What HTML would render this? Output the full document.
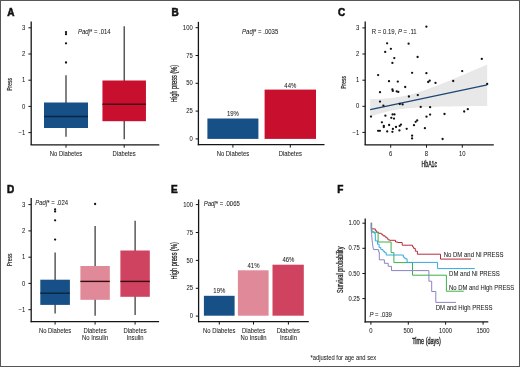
<!DOCTYPE html><html><head><meta charset="utf-8"><style>html,body{margin:0;padding:0;background:#fff;}svg{display:block;filter:blur(0.3px);}.wrap{position:relative;width:520px;height:367px;overflow:hidden;}.bd{position:absolute;left:0;top:0;width:520px;height:367px;box-sizing:border-box;border:1px solid #575757;}text{font-family:"Liberation Sans", sans-serif;}.t{stroke:#222;stroke-width:0.05px;}</style></head><body>
<div class="wrap">
<svg width="520" height="367" viewBox="0 0 520 367">
<rect x="0" y="0" width="520" height="367" fill="#fff"/>
<text transform="translate(7.20,15.60) scale(1,1)" font-size="10.0" text-anchor="start" font-weight="bold" font-style="normal" fill="#111" style="stroke:#111;stroke-width:0.55px">A</text>
<text style="stroke:#222;stroke-width:0.18px" transform="translate(9.4,84.4) rotate(-90)" x="-6.45" y="0" dy="0.35em" font-size="7.9" font-weight="normal" textLength="12.9" lengthAdjust="spacingAndGlyphs" fill="#222">Press</text>
<line x1="31.2" y1="21.4" x2="31.2" y2="145.1" stroke="#151515" stroke-width="1.3"/>
<line x1="28.4" y1="27.8" x2="31.2" y2="27.8" stroke="#151515" stroke-width="1"/>
<text transform="translate(25.30,29.90) scale(0.9,1)" font-size="6.556" text-anchor="end" font-weight="normal" font-style="normal" fill="#222" class="t">3</text>
<line x1="28.4" y1="54.0" x2="31.2" y2="54.0" stroke="#151515" stroke-width="1"/>
<text transform="translate(25.30,56.10) scale(0.9,1)" font-size="6.556" text-anchor="end" font-weight="normal" font-style="normal" fill="#222" class="t">2</text>
<line x1="28.4" y1="80.2" x2="31.2" y2="80.2" stroke="#151515" stroke-width="1"/>
<text transform="translate(25.30,82.30) scale(0.9,1)" font-size="6.556" text-anchor="end" font-weight="normal" font-style="normal" fill="#222" class="t">1</text>
<line x1="28.4" y1="106.4" x2="31.2" y2="106.4" stroke="#151515" stroke-width="1"/>
<text transform="translate(25.30,108.50) scale(0.9,1)" font-size="6.556" text-anchor="end" font-weight="normal" font-style="normal" fill="#222" class="t">0</text>
<line x1="28.4" y1="132.6" x2="31.2" y2="132.6" stroke="#151515" stroke-width="1"/>
<text transform="translate(25.30,134.70) scale(0.9,1)" font-size="6.556" text-anchor="end" font-weight="normal" font-style="normal" fill="#222" class="t">−1</text>
<line x1="30.6" y1="144.8" x2="159.3" y2="144.8" stroke="#151515" stroke-width="1.3"/>
<line x1="66" y1="144.8" x2="66" y2="147.70000000000002" stroke="#151515" stroke-width="1"/>
<text transform="translate(66.00,155.80) scale(0.9,1)" font-size="6.556" text-anchor="middle" font-weight="normal" font-style="normal" fill="#222" class="t">No Diabetes</text>
<line x1="124.2" y1="144.8" x2="124.2" y2="147.70000000000002" stroke="#151515" stroke-width="1"/>
<text transform="translate(124.20,155.80) scale(0.9,1)" font-size="6.556" text-anchor="middle" font-weight="normal" font-style="normal" fill="#222" class="t">Diabetes</text>
<line x1="66" y1="75.3" x2="66" y2="136.7" stroke="#262626" stroke-width="1.15"/>
<rect x="44.0" y="102.5" width="44" height="25.5" fill="#165087"/>
<line x1="44.0" y1="116.5" x2="88.0" y2="116.5" stroke="#0b2440" stroke-width="1.4"/>
<circle cx="66" cy="62.5" r="1.15" fill="#111"/>
<circle cx="66" cy="43.3" r="1.15" fill="#111"/>
<circle cx="66" cy="34.2" r="1.15" fill="#111"/>
<circle cx="66" cy="32.1" r="1.15" fill="#111"/>
<line x1="124.2" y1="26.3" x2="124.2" y2="139.3" stroke="#262626" stroke-width="1.15"/>
<rect x="102.45" y="80.5" width="43.5" height="40.7" fill="#c8102e"/>
<line x1="102.45" y1="104.2" x2="145.95" y2="104.2" stroke="#4a0a12" stroke-width="1.4"/>
<text class="t" transform="translate(77.9,34.1) scale(0.9,1)" font-size="6.667" fill="#222"><tspan font-style="italic">Padj</tspan>* = .014</text>
<text transform="translate(171.60,15.90) scale(1,1)" font-size="10.0" text-anchor="start" font-weight="bold" font-style="normal" fill="#111" style="stroke:#111;stroke-width:0.55px">B</text>
<text style="stroke:#222;stroke-width:0.25px" transform="translate(174.3,83.5) rotate(-90)" x="-18.7" y="0" dy="0.35em" font-size="8.2" font-weight="normal" textLength="37.4" lengthAdjust="spacingAndGlyphs" fill="#222">High press (%)</text>
<line x1="198.4" y1="21.8" x2="198.4" y2="145.3" stroke="#151515" stroke-width="1.3"/>
<line x1="195.6" y1="27.7" x2="198.4" y2="27.7" stroke="#151515" stroke-width="1"/>
<text transform="translate(192.70,29.80) scale(0.9,1)" font-size="6.556" text-anchor="end" font-weight="normal" font-style="normal" fill="#222" class="t">100</text>
<line x1="195.6" y1="55.5" x2="198.4" y2="55.5" stroke="#151515" stroke-width="1"/>
<text transform="translate(192.70,57.60) scale(0.9,1)" font-size="6.556" text-anchor="end" font-weight="normal" font-style="normal" fill="#222" class="t">75</text>
<line x1="195.6" y1="83.3" x2="198.4" y2="83.3" stroke="#151515" stroke-width="1"/>
<text transform="translate(192.70,85.40) scale(0.9,1)" font-size="6.556" text-anchor="end" font-weight="normal" font-style="normal" fill="#222" class="t">50</text>
<line x1="195.6" y1="111.1" x2="198.4" y2="111.1" stroke="#151515" stroke-width="1"/>
<text transform="translate(192.70,113.20) scale(0.9,1)" font-size="6.556" text-anchor="end" font-weight="normal" font-style="normal" fill="#222" class="t">25</text>
<line x1="195.6" y1="138.9" x2="198.4" y2="138.9" stroke="#151515" stroke-width="1"/>
<text transform="translate(192.70,141.00) scale(0.9,1)" font-size="6.556" text-anchor="end" font-weight="normal" font-style="normal" fill="#222" class="t">0</text>
<line x1="197.8" y1="144.7" x2="324.5" y2="144.7" stroke="#151515" stroke-width="1.3"/>
<line x1="232.9" y1="144.7" x2="232.9" y2="147.6" stroke="#151515" stroke-width="1"/>
<text transform="translate(232.90,155.70) scale(0.9,1)" font-size="6.556" text-anchor="middle" font-weight="normal" font-style="normal" fill="#222" class="t">No Diabetes</text>
<line x1="290.3" y1="144.7" x2="290.3" y2="147.6" stroke="#151515" stroke-width="1"/>
<text transform="translate(290.30,155.70) scale(0.9,1)" font-size="6.556" text-anchor="middle" font-weight="normal" font-style="normal" fill="#222" class="t">Diabetes</text>
<rect x="207.4" y="118.5" width="51" height="20.4" fill="#165087"/>
<rect x="264.6" y="89.6" width="51.4" height="49.3" fill="#c8102e"/>
<text transform="translate(232.90,115.70) scale(0.9,1)" font-size="6.667" text-anchor="middle" font-weight="normal" font-style="normal" fill="#222" class="t">19%</text>
<text transform="translate(290.30,87.60) scale(0.9,1)" font-size="6.667" text-anchor="middle" font-weight="normal" font-style="normal" fill="#222" class="t">44%</text>
<text class="t" transform="translate(242.1,34.3) scale(0.9,1)" font-size="6.667" fill="#222"><tspan font-style="italic">Padj</tspan>* = .0035</text>
<text transform="translate(338.10,15.90) scale(1,1)" font-size="10.0" text-anchor="start" font-weight="bold" font-style="normal" fill="#111" style="stroke:#111;stroke-width:0.55px">C</text>
<text style="stroke:#222;stroke-width:0.18px" transform="translate(343.7,82.4) rotate(-90)" x="-6.45" y="0" dy="0.35em" font-size="7.9" font-weight="normal" textLength="12.9" lengthAdjust="spacingAndGlyphs" fill="#222">Press</text>
<polygon points="370.2,99.2 373.1,99.1 376.1,99.0 379.0,98.9 381.9,98.7 384.8,98.5 387.8,98.3 390.7,98.0 393.6,97.7 396.5,97.3 399.4,96.9 402.4,96.3 405.3,95.8 408.2,95.1 411.1,94.4 414.1,93.6 417.0,92.7 419.9,91.8 422.8,90.8 425.8,89.8 428.7,88.7 431.6,87.6 434.5,86.5 437.5,85.4 440.4,84.2 443.3,83.1 446.2,81.9 449.2,80.7 452.1,79.5 455.0,78.3 457.9,77.0 460.9,75.8 463.8,74.6 466.7,73.3 469.6,72.1 472.6,70.8 475.5,69.5 478.4,68.3 481.4,67.0 484.3,65.8 487.2,64.5 487.2,105.9 484.3,106.0 481.4,106.0 478.4,106.0 475.5,106.0 472.6,106.1 469.6,106.1 466.7,106.1 463.8,106.2 460.9,106.2 457.9,106.3 455.0,106.3 452.1,106.4 449.2,106.4 446.2,106.5 443.3,106.5 440.4,106.6 437.5,106.7 434.5,106.8 431.6,106.9 428.7,107.0 425.8,107.1 422.8,107.2 419.9,107.4 417.0,107.5 414.1,107.7 411.1,108.0 408.2,108.2 405.3,108.5 402.4,108.9 399.4,109.3 396.5,109.7 393.6,110.2 390.7,110.8 387.8,111.5 384.8,112.2 381.9,113.0 379.0,113.8 376.1,114.7 373.1,115.7 370.2,116.6" fill="#e8e8e8"/>
<line x1="370.2" y1="109.67" x2="487.2" y2="84.90" stroke="#1d4672" stroke-width="1.3"/>
<circle cx="426.4" cy="26.7" r="1.15" fill="#111"/>
<circle cx="387.1" cy="43.3" r="1.15" fill="#111"/>
<circle cx="408.6" cy="43.7" r="1.15" fill="#111"/>
<circle cx="390.9" cy="48.8" r="1.15" fill="#111"/>
<circle cx="385.2" cy="51.9" r="1.15" fill="#111"/>
<circle cx="417.6" cy="57" r="1.15" fill="#111"/>
<circle cx="394.3" cy="58.1" r="1.15" fill="#111"/>
<circle cx="392.4" cy="62.9" r="1.15" fill="#111"/>
<circle cx="378.1" cy="75.1" r="1.15" fill="#111"/>
<circle cx="412.1" cy="72.8" r="1.15" fill="#111"/>
<circle cx="426.4" cy="73.2" r="1.15" fill="#111"/>
<circle cx="389" cy="81.2" r="1.15" fill="#111"/>
<circle cx="397.8" cy="81.6" r="1.15" fill="#111"/>
<circle cx="405.2" cy="87" r="1.15" fill="#111"/>
<circle cx="392.4" cy="89.4" r="1.15" fill="#111"/>
<circle cx="392.8" cy="90.9" r="1.15" fill="#111"/>
<circle cx="396.7" cy="91.3" r="1.15" fill="#111"/>
<circle cx="398.3" cy="91.9" r="1.15" fill="#111"/>
<circle cx="380" cy="92.2" r="1.15" fill="#111"/>
<circle cx="428.2" cy="82" r="1.15" fill="#111"/>
<circle cx="429.7" cy="80.7" r="1.15" fill="#111"/>
<circle cx="435.5" cy="82.9" r="1.15" fill="#111"/>
<circle cx="453.2" cy="81" r="1.15" fill="#111"/>
<circle cx="487.2" cy="83.9" r="1.15" fill="#111"/>
<circle cx="481.8" cy="58.9" r="1.15" fill="#111"/>
<circle cx="462.2" cy="71.1" r="1.15" fill="#111"/>
<circle cx="417.8" cy="95.1" r="1.15" fill="#111"/>
<circle cx="408.9" cy="96.5" r="1.15" fill="#111"/>
<circle cx="380" cy="101.6" r="1.15" fill="#111"/>
<circle cx="383.4" cy="105.6" r="1.15" fill="#111"/>
<circle cx="399.8" cy="104" r="1.15" fill="#111"/>
<circle cx="402.6" cy="104.4" r="1.15" fill="#111"/>
<circle cx="420.7" cy="106.9" r="1.15" fill="#111"/>
<circle cx="430.1" cy="107.2" r="1.15" fill="#111"/>
<circle cx="371" cy="116.6" r="1.15" fill="#111"/>
<circle cx="385.4" cy="115.7" r="1.15" fill="#111"/>
<circle cx="392.6" cy="114.4" r="1.15" fill="#111"/>
<circle cx="394.5" cy="114.4" r="1.15" fill="#111"/>
<circle cx="391.3" cy="117.8" r="1.15" fill="#111"/>
<circle cx="394" cy="118.6" r="1.15" fill="#111"/>
<circle cx="426.5" cy="116.7" r="1.15" fill="#111"/>
<circle cx="430.1" cy="114.6" r="1.15" fill="#111"/>
<circle cx="444.5" cy="114" r="1.15" fill="#111"/>
<circle cx="464.2" cy="111.5" r="1.15" fill="#111"/>
<circle cx="467.8" cy="109.2" r="1.15" fill="#111"/>
<circle cx="417.2" cy="120.4" r="1.15" fill="#111"/>
<circle cx="415.7" cy="121.8" r="1.15" fill="#111"/>
<circle cx="381.9" cy="122.3" r="1.15" fill="#111"/>
<circle cx="389.1" cy="125" r="1.15" fill="#111"/>
<circle cx="383.8" cy="125.8" r="1.15" fill="#111"/>
<circle cx="383.8" cy="127.1" r="1.15" fill="#111"/>
<circle cx="401" cy="124.6" r="1.15" fill="#111"/>
<circle cx="399.7" cy="125.9" r="1.15" fill="#111"/>
<circle cx="396" cy="127" r="1.15" fill="#111"/>
<circle cx="414" cy="125.2" r="1.15" fill="#111"/>
<circle cx="392.9" cy="128.9" r="1.15" fill="#111"/>
<circle cx="406.7" cy="128.8" r="1.15" fill="#111"/>
<circle cx="424.9" cy="128.2" r="1.15" fill="#111"/>
<circle cx="378.1" cy="130.8" r="1.15" fill="#111"/>
<circle cx="379.9" cy="130.8" r="1.15" fill="#111"/>
<circle cx="387.2" cy="131.4" r="1.15" fill="#111"/>
<circle cx="392.4" cy="131.8" r="1.15" fill="#111"/>
<circle cx="399.4" cy="130.4" r="1.15" fill="#111"/>
<circle cx="412.1" cy="135.7" r="1.15" fill="#111"/>
<circle cx="412.1" cy="138.4" r="1.15" fill="#111"/>
<circle cx="442.6" cy="139" r="1.15" fill="#111"/>
<line x1="365.2" y1="21.6" x2="365.2" y2="145.1" stroke="#151515" stroke-width="1.3"/>
<line x1="362.4" y1="27.9" x2="365.2" y2="27.9" stroke="#151515" stroke-width="1"/>
<text transform="translate(359.30,30.00) scale(0.9,1)" font-size="6.556" text-anchor="end" font-weight="normal" font-style="normal" fill="#222" class="t">3</text>
<line x1="362.4" y1="54" x2="365.2" y2="54" stroke="#151515" stroke-width="1"/>
<text transform="translate(359.30,56.10) scale(0.9,1)" font-size="6.556" text-anchor="end" font-weight="normal" font-style="normal" fill="#222" class="t">2</text>
<line x1="362.4" y1="80.2" x2="365.2" y2="80.2" stroke="#151515" stroke-width="1"/>
<text transform="translate(359.30,82.30) scale(0.9,1)" font-size="6.556" text-anchor="end" font-weight="normal" font-style="normal" fill="#222" class="t">1</text>
<line x1="362.4" y1="106.3" x2="365.2" y2="106.3" stroke="#151515" stroke-width="1"/>
<text transform="translate(359.30,108.40) scale(0.9,1)" font-size="6.556" text-anchor="end" font-weight="normal" font-style="normal" fill="#222" class="t">0</text>
<line x1="362.4" y1="132.4" x2="365.2" y2="132.4" stroke="#151515" stroke-width="1"/>
<text transform="translate(359.30,134.50) scale(0.9,1)" font-size="6.556" text-anchor="end" font-weight="normal" font-style="normal" fill="#222" class="t">−1</text>
<line x1="364.6" y1="144.8" x2="493.8" y2="144.8" stroke="#151515" stroke-width="1.3"/>
<line x1="390.7" y1="144.8" x2="390.7" y2="147.70000000000002" stroke="#151515" stroke-width="1"/>
<text transform="translate(390.70,155.70) scale(0.9,1)" font-size="6.556" text-anchor="middle" font-weight="normal" font-style="normal" fill="#222" class="t">6</text>
<line x1="426.5" y1="144.8" x2="426.5" y2="147.70000000000002" stroke="#151515" stroke-width="1"/>
<text transform="translate(426.50,155.70) scale(0.9,1)" font-size="6.556" text-anchor="middle" font-weight="normal" font-style="normal" fill="#222" class="t">8</text>
<line x1="462.3" y1="144.8" x2="462.3" y2="147.70000000000002" stroke="#151515" stroke-width="1"/>
<text transform="translate(462.30,155.70) scale(0.9,1)" font-size="6.556" text-anchor="middle" font-weight="normal" font-style="normal" fill="#222" class="t">10</text>
<text style="stroke:#222;stroke-width:0.35px" x="421.5" y="164.3" dy="0.35em" font-size="8.5" font-weight="normal" textLength="15.6" lengthAdjust="spacingAndGlyphs" fill="#222">HbA1c</text>
<text class="t" transform="translate(371.8,33.9) scale(0.9,1)" font-size="6.667" fill="#222">R = 0.19, <tspan font-style="italic">P</tspan> = .11</text>
<text transform="translate(7.10,192.60) scale(1,1)" font-size="10.0" text-anchor="start" font-weight="bold" font-style="normal" fill="#111" style="stroke:#111;stroke-width:0.55px">D</text>
<text style="stroke:#222;stroke-width:0.18px" transform="translate(9.4,259.9) rotate(-90)" x="-6.45" y="0" dy="0.35em" font-size="7.9" font-weight="normal" textLength="12.9" lengthAdjust="spacingAndGlyphs" fill="#222">Press</text>
<line x1="31.2" y1="197.9" x2="31.2" y2="322.3" stroke="#151515" stroke-width="1.3"/>
<line x1="28.4" y1="204.6" x2="31.2" y2="204.6" stroke="#151515" stroke-width="1"/>
<text transform="translate(25.30,206.70) scale(0.9,1)" font-size="6.556" text-anchor="end" font-weight="normal" font-style="normal" fill="#222" class="t">3</text>
<line x1="28.4" y1="230.9" x2="31.2" y2="230.9" stroke="#151515" stroke-width="1"/>
<text transform="translate(25.30,233.00) scale(0.9,1)" font-size="6.556" text-anchor="end" font-weight="normal" font-style="normal" fill="#222" class="t">2</text>
<line x1="28.4" y1="257.2" x2="31.2" y2="257.2" stroke="#151515" stroke-width="1"/>
<text transform="translate(25.30,259.30) scale(0.9,1)" font-size="6.556" text-anchor="end" font-weight="normal" font-style="normal" fill="#222" class="t">1</text>
<line x1="28.4" y1="283.4" x2="31.2" y2="283.4" stroke="#151515" stroke-width="1"/>
<text transform="translate(25.30,285.50) scale(0.9,1)" font-size="6.556" text-anchor="end" font-weight="normal" font-style="normal" fill="#222" class="t">0</text>
<line x1="28.4" y1="309.7" x2="31.2" y2="309.7" stroke="#151515" stroke-width="1"/>
<text transform="translate(25.30,311.80) scale(0.9,1)" font-size="6.556" text-anchor="end" font-weight="normal" font-style="normal" fill="#222" class="t">−1</text>
<line x1="30.6" y1="321.7" x2="159.1" y2="321.7" stroke="#151515" stroke-width="1.3"/>
<line x1="55.1" y1="321.7" x2="55.1" y2="324.59999999999997" stroke="#151515" stroke-width="1"/>
<text transform="translate(55.10,333.00) scale(0.9,1)" font-size="6.556" text-anchor="middle" font-weight="normal" font-style="normal" fill="#222" class="t">No Diabetes</text>
<line x1="95.1" y1="321.7" x2="95.1" y2="324.59999999999997" stroke="#151515" stroke-width="1"/>
<text transform="translate(95.10,333.00) scale(0.9,1)" font-size="6.556" text-anchor="middle" font-weight="normal" font-style="normal" fill="#222" class="t">Diabetes</text>
<text transform="translate(95.10,339.90) scale(0.9,1)" font-size="6.556" text-anchor="middle" font-weight="normal" font-style="normal" fill="#222" class="t">No Insulin</text>
<line x1="135.1" y1="321.7" x2="135.1" y2="324.59999999999997" stroke="#151515" stroke-width="1"/>
<text transform="translate(135.10,333.00) scale(0.9,1)" font-size="6.556" text-anchor="middle" font-weight="normal" font-style="normal" fill="#222" class="t">Diabetes</text>
<text transform="translate(135.10,339.90) scale(0.9,1)" font-size="6.556" text-anchor="middle" font-weight="normal" font-style="normal" fill="#222" class="t">Insulin</text>
<line x1="55.1" y1="252.5" x2="55.1" y2="313.4" stroke="#262626" stroke-width="1.15"/>
<rect x="40.3" y="279.7" width="29.6" height="25.19999999999999" fill="#165087"/>
<line x1="40.3" y1="293.2" x2="69.9" y2="293.2" stroke="#0b2440" stroke-width="1.4"/>
<circle cx="55.1" cy="239.6" r="1.15" fill="#111"/>
<circle cx="55.1" cy="220.3" r="1.15" fill="#111"/>
<circle cx="55.1" cy="211.4" r="1.15" fill="#111"/>
<circle cx="55.1" cy="209.3" r="1.15" fill="#111"/>
<line x1="95.1" y1="226" x2="95.1" y2="315.7" stroke="#262626" stroke-width="1.15"/>
<rect x="80.39999999999999" y="266" width="29.4" height="33.80000000000001" fill="#e08998"/>
<line x1="80.39999999999999" y1="281.4" x2="109.8" y2="281.4" stroke="#3a0a14" stroke-width="1.4"/>
<circle cx="95.1" cy="204" r="1.15" fill="#111"/>
<line x1="135.1" y1="220.7" x2="135.1" y2="315" stroke="#262626" stroke-width="1.15"/>
<rect x="120.39999999999999" y="250.5" width="29.4" height="46.30000000000001" fill="#d04360"/>
<line x1="120.39999999999999" y1="281.4" x2="149.79999999999998" y2="281.4" stroke="#3a0a14" stroke-width="1.4"/>
<text class="t" transform="translate(35.3,205.3) scale(0.9,1)" font-size="6.667" fill="#222"><tspan font-style="italic">Padj</tspan>* = .024</text>
<text transform="translate(171.10,192.90) scale(1,1)" font-size="10.0" text-anchor="start" font-weight="bold" font-style="normal" fill="#111" style="stroke:#111;stroke-width:0.55px">E</text>
<text style="stroke:#222;stroke-width:0.25px" transform="translate(174.5,260.8) rotate(-90)" x="-18.6" y="0" dy="0.35em" font-size="8.2" font-weight="normal" textLength="37.2" lengthAdjust="spacingAndGlyphs" fill="#222">High press (%)</text>
<line x1="198.6" y1="199.5" x2="198.6" y2="322.3" stroke="#151515" stroke-width="1.3"/>
<line x1="195.79999999999998" y1="204.6" x2="198.6" y2="204.6" stroke="#151515" stroke-width="1"/>
<text transform="translate(193.00,206.70) scale(0.9,1)" font-size="6.556" text-anchor="end" font-weight="normal" font-style="normal" fill="#222" class="t">100</text>
<line x1="195.79999999999998" y1="232.5" x2="198.6" y2="232.5" stroke="#151515" stroke-width="1"/>
<text transform="translate(193.00,234.60) scale(0.9,1)" font-size="6.556" text-anchor="end" font-weight="normal" font-style="normal" fill="#222" class="t">75</text>
<line x1="195.79999999999998" y1="260.4" x2="198.6" y2="260.4" stroke="#151515" stroke-width="1"/>
<text transform="translate(193.00,262.50) scale(0.9,1)" font-size="6.556" text-anchor="end" font-weight="normal" font-style="normal" fill="#222" class="t">50</text>
<line x1="195.79999999999998" y1="288.3" x2="198.6" y2="288.3" stroke="#151515" stroke-width="1"/>
<text transform="translate(193.00,290.40) scale(0.9,1)" font-size="6.556" text-anchor="end" font-weight="normal" font-style="normal" fill="#222" class="t">25</text>
<line x1="195.79999999999998" y1="316.1" x2="198.6" y2="316.1" stroke="#151515" stroke-width="1"/>
<text transform="translate(193.00,318.20) scale(0.9,1)" font-size="6.556" text-anchor="end" font-weight="normal" font-style="normal" fill="#222" class="t">0</text>
<line x1="198" y1="321.7" x2="308.8" y2="321.7" stroke="#151515" stroke-width="1.3"/>
<line x1="219.3" y1="321.7" x2="219.3" y2="324.59999999999997" stroke="#151515" stroke-width="1"/>
<text transform="translate(219.30,333.00) scale(0.9,1)" font-size="6.556" text-anchor="middle" font-weight="normal" font-style="normal" fill="#222" class="t">No Diabetes</text>
<line x1="253.5" y1="321.7" x2="253.5" y2="324.59999999999997" stroke="#151515" stroke-width="1"/>
<text transform="translate(253.50,333.00) scale(0.9,1)" font-size="6.556" text-anchor="middle" font-weight="normal" font-style="normal" fill="#222" class="t">Diabetes</text>
<text transform="translate(253.50,339.90) scale(0.9,1)" font-size="6.556" text-anchor="middle" font-weight="normal" font-style="normal" fill="#222" class="t">No Insulin</text>
<line x1="288.4" y1="321.7" x2="288.4" y2="324.59999999999997" stroke="#151515" stroke-width="1"/>
<text transform="translate(288.40,333.00) scale(0.9,1)" font-size="6.556" text-anchor="middle" font-weight="normal" font-style="normal" fill="#222" class="t">Diabetes</text>
<text transform="translate(288.40,339.90) scale(0.9,1)" font-size="6.556" text-anchor="middle" font-weight="normal" font-style="normal" fill="#222" class="t">Insulin</text>
<rect x="203.9" y="295.8" width="30.7" height="19.9" fill="#165087"/>
<rect x="237.9" y="270.3" width="30.7" height="45.4" fill="#e08998"/>
<rect x="272.5" y="264.7" width="31.3" height="51" fill="#d04360"/>
<text transform="translate(219.30,293.30) scale(0.9,1)" font-size="6.667" text-anchor="middle" font-weight="normal" font-style="normal" fill="#222" class="t">19%</text>
<text transform="translate(253.50,267.80) scale(0.9,1)" font-size="6.667" text-anchor="middle" font-weight="normal" font-style="normal" fill="#222" class="t">41%</text>
<text transform="translate(288.40,262.20) scale(0.9,1)" font-size="6.667" text-anchor="middle" font-weight="normal" font-style="normal" fill="#222" class="t">46%</text>
<text class="t" transform="translate(203.7,205.6) scale(0.9,1)" font-size="6.667" fill="#222"><tspan font-style="italic">Padj</tspan>* = .0065</text>
<text transform="translate(337.30,192.90) scale(1,1)" font-size="10.0" text-anchor="start" font-weight="bold" font-style="normal" fill="#111" style="stroke:#111;stroke-width:0.55px">F</text>
<text style="stroke:#222;stroke-width:0.25px" transform="translate(340.1,269.8) rotate(-90)" x="-23.2" y="0" dy="0.35em" font-size="8.2" font-weight="normal" textLength="46.4" lengthAdjust="spacingAndGlyphs" fill="#222">Survival probability</text>
<path d="M371.3,222.9 V228.9 H375.3 V230.5 H376.4 V232.2 H378.6 V233.3 H381.3 V234.3 H382.9 V235.8 H385.1 V237.1 H386.8 V238.2 H387.9 V239.8 H389.5 V240.3 H395.5 V242 H397.7 V242.5 H402.2 V245.2 H412.5 V246.8 H413.6 V248.4 H415.3 V251.2 H417.4 V254.2 H440.5 V259.1 H471" fill="none" stroke="#b82a3a" stroke-width="1"/>
<path d="M371.3,222.9 H371.7 V231.1 H373.1 V232.2 H378.1 V242 H391.1 V252.6 H393.9 V262.6 H412.5 V275.2 H446.4 V291.2 H463.8" fill="none" stroke="#3cb04a" stroke-width="1"/>
<path d="M371.3,222.9 V232.2 H374.2 V233.3 H375.3 V240.9 H377.5 V244.2 H379.1 V247.4 H380.8 V249.6 H383 V251.2 H384.6 V252.7 H386.2 V255 H403.3 V257.2 H404.9 V258.8 H407.1 V262.4 H437.6 V268.6 H474.8" fill="none" stroke="#33a8e0" stroke-width="1"/>
<path d="M371.3,222.9 C371.5,235 372,242 373.5,249.6 H378.6 V251.8 H379.3 V259.8 H384.4 V263.3 H388.2 V266.3 H391.5 V270.6 H428.9 V281.2 H431.7 V291.5 H435.8 V302.4 H456" fill="none" stroke="#8a84c4" stroke-width="1"/>
<line x1="365.2" y1="218.5" x2="365.2" y2="322.4" stroke="#151515" stroke-width="1.3"/>
<line x1="362.4" y1="223.2" x2="365.2" y2="223.2" stroke="#151515" stroke-width="1"/>
<text transform="translate(359.90,225.30) scale(0.9,1)" font-size="6.556" text-anchor="end" font-weight="normal" font-style="normal" fill="#222" class="t">1.00</text>
<line x1="362.4" y1="248.3" x2="365.2" y2="248.3" stroke="#151515" stroke-width="1"/>
<text transform="translate(359.90,250.40) scale(0.9,1)" font-size="6.556" text-anchor="end" font-weight="normal" font-style="normal" fill="#222" class="t">0.75</text>
<line x1="362.4" y1="273.5" x2="365.2" y2="273.5" stroke="#151515" stroke-width="1"/>
<text transform="translate(359.90,275.60) scale(0.9,1)" font-size="6.556" text-anchor="end" font-weight="normal" font-style="normal" fill="#222" class="t">0.50</text>
<line x1="362.4" y1="298.6" x2="365.2" y2="298.6" stroke="#151515" stroke-width="1"/>
<text transform="translate(359.90,300.70) scale(0.9,1)" font-size="6.556" text-anchor="end" font-weight="normal" font-style="normal" fill="#222" class="t">0.25</text>
<line x1="364.6" y1="321.8" x2="488.3" y2="321.8" stroke="#151515" stroke-width="1.3"/>
<line x1="370.9" y1="321.8" x2="370.9" y2="324.7" stroke="#151515" stroke-width="1"/>
<text transform="translate(370.90,332.50) scale(0.9,1)" font-size="6.556" text-anchor="middle" font-weight="normal" font-style="normal" fill="#222" class="t">0</text>
<line x1="408.3" y1="321.8" x2="408.3" y2="324.7" stroke="#151515" stroke-width="1"/>
<text transform="translate(408.30,332.50) scale(0.9,1)" font-size="6.556" text-anchor="middle" font-weight="normal" font-style="normal" fill="#222" class="t">500</text>
<line x1="445.6" y1="321.8" x2="445.6" y2="324.7" stroke="#151515" stroke-width="1"/>
<text transform="translate(445.60,332.50) scale(0.9,1)" font-size="6.556" text-anchor="middle" font-weight="normal" font-style="normal" fill="#222" class="t">1000</text>
<line x1="483.1" y1="321.8" x2="483.1" y2="324.7" stroke="#151515" stroke-width="1"/>
<text transform="translate(483.10,332.50) scale(0.9,1)" font-size="6.556" text-anchor="middle" font-weight="normal" font-style="normal" fill="#222" class="t">1500</text>
<text style="stroke:#222;stroke-width:0.35px" x="412.2" y="341.1" dy="0.35em" font-size="8.4" font-weight="normal" textLength="28.6" lengthAdjust="spacingAndGlyphs" fill="#222">Time (days)</text>
<text transform="translate(443.70,256.50) scale(0.9,1)" font-size="6.667" text-anchor="start" font-weight="normal" font-style="normal" fill="#222" class="t">No DM and NI PRESS</text>
<text transform="translate(449.10,275.70) scale(0.9,1)" font-size="6.667" text-anchor="start" font-weight="normal" font-style="normal" fill="#222" class="t">DM and NI PRESS</text>
<text transform="translate(449.10,289.80) scale(0.9,1)" font-size="6.556" text-anchor="start" font-weight="normal" font-style="normal" fill="#222" class="t">No DM and High PRESS</text>
<text transform="translate(435.70,309.60) scale(0.9,1)" font-size="6.667" text-anchor="start" font-weight="normal" font-style="normal" fill="#222" class="t">DM and High PRESS</text>
<text class="t" transform="translate(369.4,317.4) scale(0.9,1)" font-size="6.667" fill="#222"><tspan font-style="italic">P</tspan> = .039</text>
<text transform="translate(310.50,359.60) scale(0.9,1)" font-size="6.444" text-anchor="start" font-weight="normal" font-style="normal" fill="#222" class="t">*adjusted for age and sex</text>
</svg><div class="bd"></div></div></body></html>
